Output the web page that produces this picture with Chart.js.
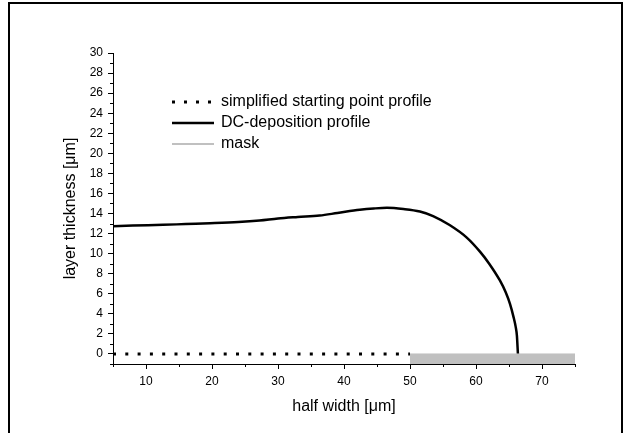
<!DOCTYPE html>
<html>
<head>
<meta charset="utf-8">
<script src="https://cdn.jsdelivr.net/npm/chart.js@4"></script>
<style>
    html, body { margin: 0; padding: 0; background: #fff; }
    #wrap { position: relative; width: 631px; height: 433px; }
</style>
</head>
<body>
<div id="wrap"><canvas id="chart" width="631" height="433"></canvas></div>
<script>
// values
const dcX = [5, 8, 12.6, 16, 19.7, 24, 27.2, 30, 33, 36.3, 39, 42.4, 44.5, 46.5, 49, 51.5, 53.5, 56, 58.6, 60.6, 62, 63.6, 64.5, 65.15, 65.7, 66.0, 66.2, 66.35];
const dcY = [12.73, 12.8, 12.87, 12.95, 13.03, 13.15, 13.3, 13.5, 13.65, 13.8, 14.05, 14.37, 14.5, 14.57, 14.45, 14.2, 13.75, 12.85, 11.6, 10.2, 9.0, 7.35, 6.15, 4.99, 3.65, 2.75, 1.8, 0];
const startX = [5, 50];
const startY = [0, 0];
const maskX = [50, 75];
const maskY = [0, 0];
const xTicks = [10, 20, 30, 40, 50, 60, 70];
const xMinor = [5, 15, 25, 35, 45, 55, 65, 75];
const yTicks = [0, 2, 4, 6, 8, 10, 12, 14, 16, 18, 20, 22, 24, 26, 28, 30];
const yMinor = [-1, 1, 3, 5, 7, 9, 11, 13, 15, 17, 19, 21, 23, 25, 27, 29];
const legendItems = [
    { label: 'simplified starting point profile', color: '#000', width: 3, dash: [3, 9] },
    { label: 'DC-deposition profile', color: '#000', width: 2.5, dash: [] },
    { label: 'mask', color: '#c0c0c0', width: 2, dash: [] }
];

const FONT = "'Liberation Sans', Arial, sans-serif";
const pts = (xs, ys) => xs.map((x, i) => ({ x: x, y: ys[i] }));

const framePlugin = {
    id: 'frame',
    beforeDraw(chart) {
        const ctx = chart.ctx;
        ctx.save();
        ctx.strokeStyle = '#000';
        ctx.lineWidth = 2;
        ctx.strokeRect(9, 3, 613, 450);
        ctx.restore();
    }
};

const minorTicks = {
    id: 'minorTicks',
    afterDraw(chart) {
        const { ctx, chartArea } = chart;
        const xs = chart.scales.x;
        const ys = chart.scales.y;
        ctx.save();
        ctx.strokeStyle = '#000';
        ctx.lineWidth = 1;
        ctx.beginPath();
        xMinor.forEach(v => {
            const px = Math.round(xs.getPixelForValue(v)) + 0.5;
            ctx.moveTo(px, chartArea.bottom);
            ctx.lineTo(px, chartArea.bottom + 3);
        });
        yMinor.forEach(v => {
            const py = Math.round(ys.getPixelForValue(v)) + 0.5;
            ctx.moveTo(chartArea.left - 3, py);
            ctx.lineTo(chartArea.left, py);
        });
        ctx.stroke();
        ctx.restore();
    }
};

const legendPlugin = {
    id: 'plotLegend',
    afterDraw(chart) {
        const ctx = chart.ctx;
        ctx.save();
        ctx.font = '16px ' + FONT;
        ctx.fillStyle = '#000';
        ctx.textBaseline = 'middle';
        legendItems.forEach((it, i) => {
            const y = 102 + i * 21;
            ctx.strokeStyle = it.color;
            ctx.lineWidth = it.width;
            ctx.setLineDash(it.dash);
            ctx.beginPath();
            ctx.moveTo(172, y);
            ctx.lineTo(214, y);
            ctx.stroke();
            ctx.setLineDash([]);
            ctx.fillText(it.label, 221, y);
        });
        ctx.restore();
    }
};

new Chart(document.getElementById('chart'), {
    type: 'line',
    data: {
        datasets: [
            {
                label: 'mask',
                data: pts(maskX, maskY),
                borderColor: '#c0c0c0',
                backgroundColor: '#c0c0c0',
                borderWidth: 1,
                fill: 'start',
                pointRadius: 0
            },
            {
                label: 'DC-deposition profile',
                data: pts(dcX, dcY),
                borderColor: '#000',
                borderWidth: 2.5,
                cubicInterpolationMode: 'monotone',
                fill: false,
                pointRadius: 0
            },
            {
                label: 'simplified starting point profile',
                data: pts(startX, startY),
                borderColor: '#000',
                borderWidth: 3,
                borderDash: [3, 9.3],
                borderCapStyle: 'butt',
                fill: false,
                pointRadius: 0
            }
        ]
    },
    options: {
        responsive: false,
        animation: false,
        devicePixelRatio: 1,
        layout: { padding: { left: 0, top: 53, right: 56, bottom: 0 } },
        plugins: { legend: { display: false }, tooltip: { enabled: false } },
        scales: {
            x: {
                type: 'linear',
                min: 5,
                max: 75,
                afterBuildTicks: (s) => { s.ticks = xTicks.map(v => ({ value: v })); },
                afterFit: (s) => { s.height = 69; },
                ticks: { color: '#000', font: { family: FONT, size: 12 }, padding: 5, maxRotation: 0, autoSkip: false },
                grid: { drawOnChartArea: false, drawTicks: true, tickLength: 5, color: '#000', lineWidth: 1 },
                border: { display: true, color: '#000', width: 1 },
                title: { display: true, text: 'half width [μm]', color: '#000', font: { family: FONT, size: 16 }, padding: { top: 0, bottom: 17 } }
            },
            y: {
                type: 'linear',
                min: -1,
                max: 30,
                afterBuildTicks: (s) => { s.ticks = yTicks.map(v => ({ value: v })); },
                afterFit: (s) => { s.width = 113; },
                ticks: { color: '#000', font: { family: FONT, size: 12 }, padding: 5, autoSkip: false },
                grid: { drawOnChartArea: false, drawTicks: true, tickLength: 5, color: '#000', lineWidth: 1 },
                border: { display: true, color: '#000', width: 1 },
                title: { display: true, text: 'layer thickness [μm]', color: '#000', font: { family: FONT, size: 16 }, padding: { top: 61, bottom: 0 } }
            }
        }
    },
    plugins: [framePlugin, minorTicks, legendPlugin]
});
</script>
</body>
</html>
